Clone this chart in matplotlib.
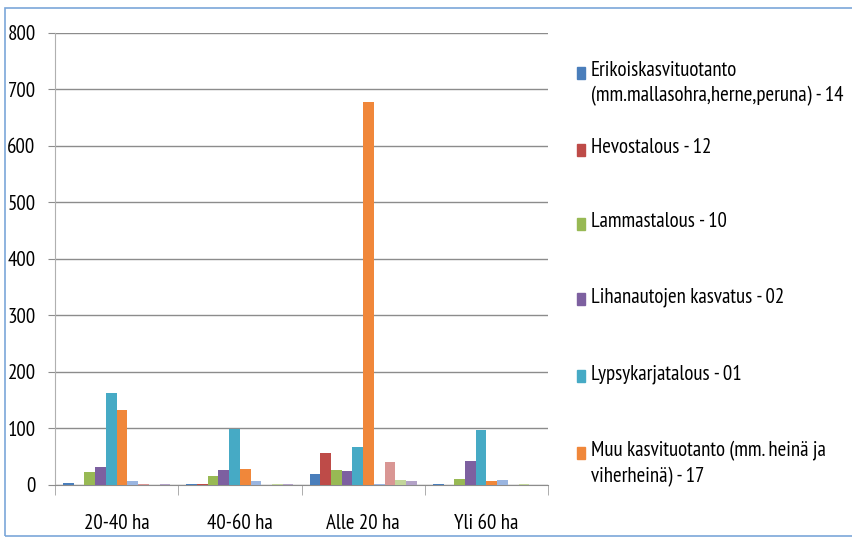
import numpy as np
import matplotlib.pyplot as plt
from matplotlib.patches import Rectangle

plt.rcParams['font.family'] = ['PT Sans Narrow', 'DejaVu Sans']

categories = ['20-40 ha', '40-60 ha', 'Alle 20 ha', 'Yli 60 ha']

series_names = [
    'Erikoiskasvituotanto\n(mm.mallasohra,herne,peruna) - 14',
    'Hevostalous - 12',
    'Lammastalous - 10',
    'Lihanautojen kasvatus - 02',
    'Lypsykarjatalous - 01',
    'Muu kasvituotanto (mm. heinä ja\nviherheinä) - 17',
    'Sarja 7', 'Sarja 8', 'Sarja 9', 'Sarja 10',
]

# values per series, one per category
values = [
    [4, 2, 19, 2],
    [0, 2, 56, 0],
    [23, 16, 26, 11],
    [32, 26, 25, 42],
    [162, 99, 67, 97],
    [132, 28, 678, 7],
    [7, 7, 2, 9],
    [2, 0, 41, 0],
    [0, 1, 9, 2],
    [2, 1, 7, 0],
]

colors = ['#4A7EBB', '#BE4B48', '#98B954', '#7D60A0', '#46AAC5', '#F0873A',
          '#9AB5E0', '#D99694', '#C3D69B', '#B3A2C7']

fig = plt.figure(figsize=(8.53, 5.39), dpi=100)
ax = fig.add_axes([0.0645, 0.1002, 0.578, 0.8386])

n = len(values)
w = 1.0 / (n + 1.5)
x = np.arange(len(categories))
for i, (vals, c) in enumerate(zip(values, colors)):
    ax.bar(x + (i - (n - 1) / 2) * w, vals, width=w, color=c, zorder=3)

ax.set_xlim(-0.5, len(categories) - 0.5)
ax.set_ylim(0, 800)
ax.set_yticks(np.arange(0, 801, 100))
ax.yaxis.grid(True, color='#8c8c8c', lw=1.0, zorder=0)
ax.set_xticks(x)
ax.set_xticklabels(categories, fontsize=15)
ax.set_xticks(np.arange(-0.5, len(categories)), minor=True)
ax.tick_params(axis='x', which='major', length=0, pad=21)
ax.tick_params(axis='x', which='minor', length=7, color='#a0a0a0')
ax.tick_params(axis='y', length=5, color='#8c8c8c', labelsize=15, pad=9)
for s in ['top', 'right']:
    ax.spines[s].set_visible(False)
ax.spines['left'].set_color('#b0b0b0')
ax.spines['bottom'].set_color('#8c8c8c')

# legend (only the first six entries fit in the frame)
leg_y = [73, 150, 224, 299, 376, 453]
for name, c, y in zip(series_names[:6], colors[:6], leg_y):
    fig.patches.append(Rectangle((577 / 853, 1 - (y + 6) / 539), 8 / 853, 12 / 539,
                                 transform=fig.transFigure, color=c))
    fig.text(591 / 853, 1 - (y - 12) / 539, name, fontsize=15, va='top',
             linespacing=1.4)

# chart frame
fig.patches.append(Rectangle((5 / 853, 3 / 539), 860 / 853, 528 / 539,
                             transform=fig.transFigure, fill=False,
                             edgecolor='#7BA7D9', lw=1.2))

fig.savefig('out.png', dpi=100)
